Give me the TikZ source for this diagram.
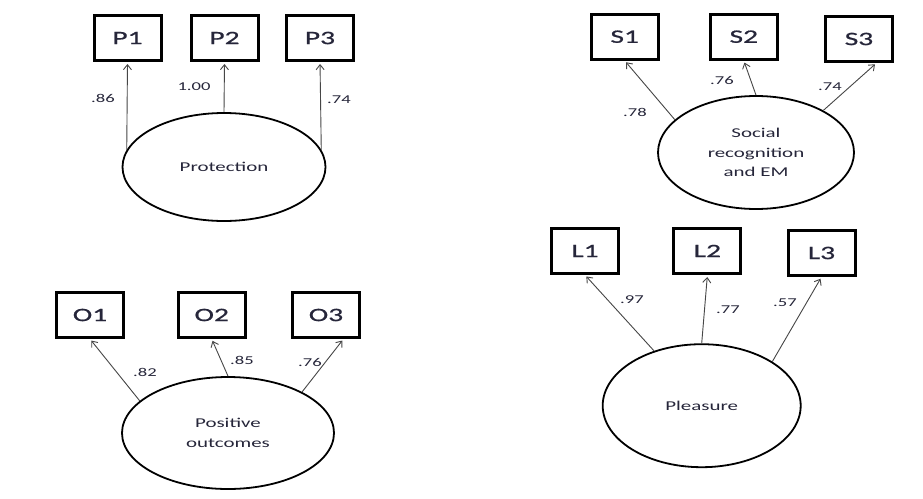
\documentclass[tikz,border=0pt]{standalone}
\usepackage{fontspec}
\setmainfont{Carlito}
\newfontfamily\widefont[FakeStretch=1.55]{Carlito}
\newfontfamily\wideheavy[FakeStretch=1.55,FakeBold=0.8]{Carlito}
\usetikzlibrary{shapes.geometric,arrows.meta,calc}
\definecolor{ink}{RGB}{38,38,58}
\definecolor{linegray}{RGB}{70,70,70}

\begin{document}
\begin{tikzpicture}[x=1pt,y=-1pt,
  indicator/.style={draw=black, line width=3pt, minimum width=67pt,
    minimum height=45pt, inner sep=0pt, text=ink,
    font=\wideheavy\fontsize{19}{22}\selectfont},
  latent/.style={ellipse, draw=black, line width=1.8pt, inner sep=0pt,
    align=center, text=ink, font=\widefont\fontsize{13.5}{19.5}\selectfont},
  loading/.style={-{Straight Barb[length=5pt,width=8pt]}, draw=linegray,
    line width=0.9pt, shorten >=2pt},
  coef/.style={inner sep=0pt, text=ink, font=\widefont\fontsize{12}{14}\selectfont},
]
\fill[white] (0,0) rectangle (923,498);
\useasboundingbox (0,0) rectangle (923,498);

% ---- Protection ----
\node[indicator] (P1) at (127.5,38) {P1};
\node[indicator] (P2) at (224.5,38) {P2};
\node[indicator] (P3) at (320,38) {P3};
\node[latent, minimum width=203pt, minimum height=108pt] (prot) at (224,167) {Protection};
\draw[loading] (prot.170) -- (P1.south);
\draw[loading] (prot.north) -- (P2.south);
\draw[loading] (prot.10) -- (P3.south);
\node[coef] (cP1) at (103,98) {.86};
\node[coef] (cP2) at (194,87) {1.00};
\node[coef] (cP3) at (339,100) {.74};

% ---- Social recognition and EM ----
\node[indicator] (S1) at (624.7,36.7) {S1};
\node[indicator] (S2) at (743.8,36.7) {S2};
\node[indicator] (S3) at (859,39) {S3};
\node[latent, minimum width=196pt, minimum height=113pt] (soc) at (756,152.5)
  {Social\\recognition\\and EM};
\draw[loading] (soc.158) -- (S1.south);
\draw[loading] (soc.north) -- (S2.south);
\draw[loading] (soc.32) -- ($(S3.south)!0.5!(S3.south east)$);
\node[coef] (cS1) at (635,112) {.78};
\node[coef] (cS2) at (722,80) {.76};
\node[coef] (cS3) at (830,87) {.74};

% ---- Positive outcomes ----
\node[indicator] (O1) at (90,315) {O1};
\node[indicator] (O2) at (211.7,315) {O2};
\node[indicator] (O3) at (326,315) {O3};
\node[latent, minimum width=212pt, minimum height=112pt] (pos) at (228,433)
  {Positive\\outcomes};
\draw[loading] (pos.160) -- (O1.south);
\draw[loading] (pos.north) -- (O2.south);
\draw[loading] (pos.29) -- ($(O3.south)!0.5!(O3.south east)$);
\node[coef] (cO1) at (145,372) {.82};
\node[coef] (cO2) at (242,360) {.85};
\node[coef] (cO3) at (310,362) {.76};

% ---- Pleasure ----
\node[indicator] (L1) at (585,251) {L1};
\node[indicator] (L2) at (707.4,251) {L2};
\node[indicator] (L3) at (821.5,253) {L3};
\node[latent, minimum width=198pt, minimum height=123pt] (plea) at (701.7,405.7)
  {Pleasure};
\draw[loading] (plea.131) -- (L1.south);
\draw[loading] (plea.north) -- (L2.south);
\draw[loading] (plea.32.5) -- (L3.south);
\node[coef] (cL1) at (632,300) {.97};
\node[coef] (cL2) at (728,310) {.77};
\node[coef] (cL3) at (785,303) {.57};
\end{tikzpicture}
\end{document}
